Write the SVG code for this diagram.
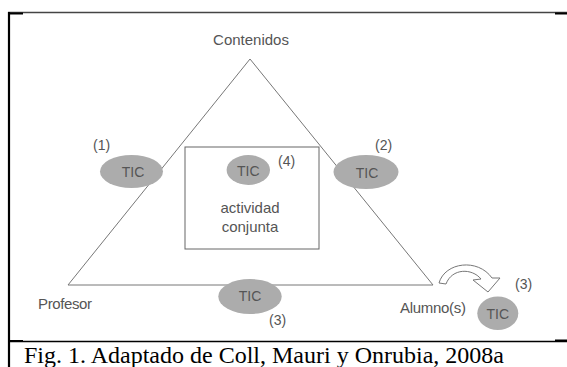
<svg xmlns="http://www.w3.org/2000/svg" width="567" height="367" viewBox="0 0 567 367">
<style>
.lbl{font-family:"Liberation Sans",Arial,sans-serif;font-size:15px;fill:#555}
.num{font-family:"Liberation Sans",Arial,sans-serif;font-size:14px;fill:#555}
.tic{font-family:"Liberation Sans",Arial,sans-serif;font-size:14px;fill:#555;text-anchor:middle}
.ell{fill:#acacac}
.edge{stroke:#777;stroke-width:1;fill:none}
.cap{font-family:"Liberation Serif","Times New Roman",serif;font-size:24px;fill:#000}
</style>
<rect width="567" height="367" fill="#fff"/>
<g id="frame">
<line x1="8" y1="12.5" x2="567" y2="12.5" stroke="#444" stroke-width="1.5"/>
<line x1="8" y1="13.5" x2="23" y2="13.5" stroke="#000" stroke-width="2"/>
<line x1="555" y1="13.5" x2="567" y2="13.5" stroke="#000" stroke-width="2"/>
<line x1="9" y1="12" x2="9" y2="367" stroke="#000" stroke-width="2.2"/>
<line x1="8" y1="341.5" x2="567" y2="341.5" stroke="#000" stroke-width="1.5"/>
<line x1="8" y1="341" x2="23" y2="341" stroke="#000" stroke-width="2"/>
<line x1="555" y1="340.5" x2="567" y2="340.5" stroke="#000" stroke-width="2"/>
</g>
<g id="connectors">
<line class="edge" x1="250" y1="59" x2="68" y2="285"/>
<line class="edge" x1="250" y1="59" x2="433" y2="285"/>
<line class="edge" x1="68" y1="285" x2="433" y2="285"/>
<path d="M439,283 C445,262 478,258 492,278 L500,278 L488,292 L473,280 L481,279 C472,268 452,268 446,284 Z" fill="#fff" stroke="#777" stroke-width="1"/>
</g>
<g id="contenidos"><text class="lbl" x="251" y="44.5" text-anchor="middle">Contenidos</text></g>
<g id="profesor"><text class="lbl" x="38" y="309" textLength="54">Profesor</text></g>
<g id="alumnos"><text class="lbl" x="400" y="313" textLength="66">Alumno(s)</text></g>
<g id="actividad">
<rect x="185" y="147" width="134" height="102" fill="none" stroke="#666" stroke-width="1"/>
<text class="lbl" x="250" y="213" text-anchor="middle">actividad</text>
<text class="lbl" x="250" y="232" text-anchor="middle">conjunta</text>
</g>
<g id="tic1">
<ellipse class="ell" cx="131.5" cy="171.5" rx="31.5" ry="16.5"/>
<text class="tic" x="133" y="177">TIC</text>
<text class="num" x="93" y="150">(1)</text>
</g>
<g id="tic2">
<ellipse class="ell" cx="366" cy="172" rx="32.5" ry="17"/>
<text class="tic" x="367" y="177.5">TIC</text>
<text class="num" x="375" y="150">(2)</text>
</g>
<g id="tic4">
<ellipse class="ell" cx="248.3" cy="170" rx="21.7" ry="15"/>
<text class="tic" x="248.3" y="175.5">TIC</text>
<text class="num" x="278" y="166">(4)</text>
</g>
<g id="tic3a">
<ellipse class="ell" cx="250" cy="296.5" rx="31.7" ry="17.5"/>
<text class="tic" x="250" y="301">TIC</text>
<text class="num" x="269" y="325">(3)</text>
</g>
<g id="tic3b">
<ellipse class="ell" cx="497.8" cy="313.3" rx="20.5" ry="16.7"/>
<text class="tic" x="497.8" y="318.5">TIC</text>
<text class="num" x="515" y="289">(3)</text>
</g>
<g id="caption"><text class="cap" x="24" y="363">Fig. 1. Adaptado de Coll, Mauri y Onrubia, 2008a</text></g>
</svg>
